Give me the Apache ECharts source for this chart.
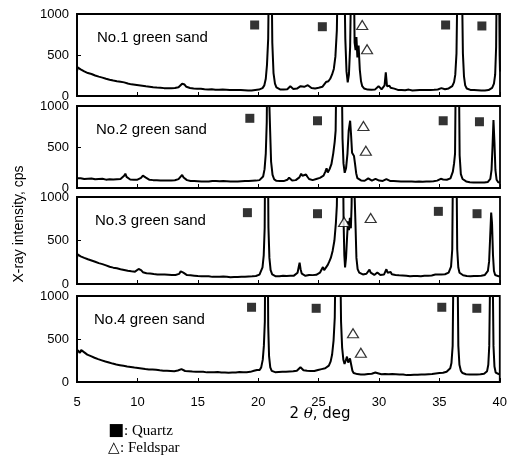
<!DOCTYPE html>
<html>
<head>
<meta charset="utf-8">
<script src="https://cdn.jsdelivr.net/npm/echarts@6/dist/echarts.min.js"></script>
<style>
  html, body { margin: 0; padding: 0; background: #fff; }
  #chart { width: 510px; height: 457px; }
</style>
</head>
<body>
<div id="chart"></div>
<script>
// 2-theta (deg) vs X-ray intensity (cps)
const sand1 = [[5.0,300],[5.05,350],[5.15,335],[5.3,325],[5.45,310],[5.6,300],[5.75,296],[5.9,280],[6.05,276],[6.2,268],[6.35,262],[6.5,250],[6.65,246],[6.8,236],[6.95,228],[7.1,224],[7.25,216],[7.4,210],[7.55,206],[7.7,198],[7.85,196],[8.0,188],[8.15,186],[8.3,180],[8.45,176],[8.6,174],[8.75,168],[8.9,166],[9.05,160],[9.2,152],[9.35,150],[9.5,142],[9.65,140],[9.8,136],[9.95,132],[10.1,130],[10.25,128],[10.4,124],[10.55,122],[10.7,118],[10.85,120],[11.0,114],[11.15,112],[11.3,108],[11.45,106],[11.6,104],[11.75,100],[11.9,102],[12.05,98],[12.2,96],[12.35,98],[12.5,94],[12.65,92],[12.8,96],[12.95,94],[13.1,98],[13.25,100],[13.4,106],[13.55,122],[13.7,150],[13.8,158],[13.9,140],[14.05,112],[14.2,104],[14.35,98],[14.5,96],[14.65,92],[14.8,90],[14.95,88],[15.1,86],[15.25,88],[15.4,84],[15.55,82],[15.7,84],[15.85,80],[16.0,78],[16.15,82],[16.3,78],[16.45,76],[16.6,80],[16.75,76],[16.9,74],[17.05,78],[17.2,82],[17.35,76],[17.5,74],[17.65,72],[17.8,76],[17.95,74],[18.1,70],[18.25,72],[18.4,76],[18.55,72],[18.7,68],[18.85,70],[19.0,72],[19.15,68],[19.3,70],[19.45,66],[19.6,70],[19.75,72],[19.9,76],[20.05,78],[20.2,84],[20.35,96],[20.5,130],[20.62,210],[20.72,380],[20.82,700],[20.9,1800],[21.08,1800],[21.16,650],[21.26,280],[21.38,150],[21.5,104],[21.65,86],[21.8,80],[21.95,76],[22.1,78],[22.25,74],[22.4,82],[22.55,92],[22.65,118],[22.75,100],[22.9,86],[23.05,96],[23.2,90],[23.35,104],[23.5,120],[23.65,136],[23.8,112],[23.95,120],[24.1,132],[24.25,110],[24.4,98],[24.55,104],[24.7,92],[24.85,96],[25.0,100],[25.15,106],[25.3,112],[25.45,130],[25.6,170],[25.7,160],[25.8,180],[25.95,210],[26.1,260],[26.25,330],[26.38,480],[26.5,800],[26.58,1500],[26.85,3000],[27.12,1500],[27.2,700],[27.3,300],[27.4,165],[27.5,260],[27.6,600],[27.7,1600],[27.9,1600],[27.97,650],[28.05,560],[28.12,720],[28.2,470],[28.3,615],[28.4,320],[28.5,180],[28.6,120],[28.75,92],[28.9,84],[29.05,78],[29.2,82],[29.35,76],[29.5,80],[29.65,78],[29.8,88],[29.95,120],[30.05,96],[30.2,82],[30.35,92],[30.45,130],[30.55,290],[30.65,120],[30.75,96],[30.85,126],[30.95,100],[31.1,84],[31.25,90],[31.4,78],[31.55,74],[31.7,80],[31.85,72],[32.0,76],[32.15,70],[32.3,74],[32.45,78],[32.6,72],[32.75,68],[32.9,74],[33.05,70],[33.2,66],[33.35,72],[33.5,70],[33.65,74],[33.8,68],[33.95,72],[34.1,70],[34.25,74],[34.4,72],[34.55,76],[34.7,74],[34.85,80],[35.0,86],[35.15,96],[35.3,84],[35.45,82],[35.6,88],[35.75,92],[35.9,100],[36.05,120],[36.2,170],[36.3,260],[36.4,520],[36.48,1400],[36.85,1400],[36.93,520],[37.02,240],[37.12,130],[37.25,92],[37.4,80],[37.55,74],[37.7,70],[37.85,72],[38.0,68],[38.15,70],[38.3,66],[38.45,68],[38.6,64],[38.75,66],[38.9,70],[39.05,72],[39.2,80],[39.35,100],[39.5,150],[39.6,260],[39.68,600],[39.73,1500],[39.92,1500],[39.97,500],[40.0,300]];

const sand2 = [[5.0,118],[5.15,112],[5.3,120],[5.45,116],[5.6,110],[5.75,118],[5.9,114],[6.05,108],[6.2,116],[6.35,112],[6.5,106],[6.65,114],[6.8,110],[6.95,104],[7.1,112],[7.25,108],[7.4,102],[7.55,110],[7.7,106],[7.85,112],[8.0,104],[8.15,100],[8.3,108],[8.45,104],[8.6,110],[8.75,120],[8.9,150],[9.0,175],[9.1,135],[9.25,112],[9.4,104],[9.55,108],[9.7,100],[9.85,106],[10.0,102],[10.15,110],[10.3,124],[10.45,150],[10.55,160],[10.7,126],[10.85,108],[11.0,100],[11.15,104],[11.3,96],[11.45,100],[11.6,94],[11.75,98],[11.9,92],[12.05,96],[12.2,90],[12.35,94],[12.5,92],[12.65,96],[12.8,92],[12.95,98],[13.1,94],[13.25,100],[13.4,108],[13.55,130],[13.7,160],[13.82,128],[13.95,104],[14.1,96],[14.25,92],[14.4,86],[14.55,90],[14.7,84],[14.85,88],[15.0,82],[15.15,86],[15.3,80],[15.45,84],[15.6,80],[15.75,82],[15.9,78],[16.05,82],[16.2,86],[16.35,80],[16.5,84],[16.65,78],[16.8,82],[16.95,80],[17.1,84],[17.25,78],[17.4,82],[17.55,86],[17.7,80],[17.85,82],[18.0,78],[18.15,84],[18.3,80],[18.45,86],[18.6,82],[18.75,78],[18.9,84],[19.05,80],[19.2,86],[19.35,82],[19.5,88],[19.65,84],[19.8,90],[19.95,88],[20.1,96],[20.25,110],[20.4,140],[20.52,230],[20.62,420],[20.7,800],[20.76,1800],[20.92,1800],[20.98,700],[21.06,320],[21.18,160],[21.32,104],[21.5,88],[21.65,82],[21.8,86],[21.95,80],[22.1,84],[22.25,90],[22.4,100],[22.55,126],[22.65,112],[22.8,92],[22.95,88],[23.1,96],[23.25,104],[23.4,130],[23.55,175],[23.65,150],[23.8,128],[23.95,165],[24.05,140],[24.2,110],[24.35,100],[24.5,96],[24.65,104],[24.8,110],[24.95,118],[25.1,124],[25.25,140],[25.4,150],[25.55,200],[25.65,240],[25.75,190],[25.9,230],[26.05,290],[26.2,420],[26.32,560],[26.4,700],[26.47,1500],[26.7,3000],[26.9,1500],[26.97,600],[27.05,300],[27.15,185],[27.26,240],[27.38,420],[27.48,700],[27.6,820],[27.68,640],[27.76,430],[27.84,450],[27.92,390],[28.0,300],[28.1,180],[28.2,120],[28.35,100],[28.5,92],[28.65,96],[28.8,88],[28.95,104],[29.1,118],[29.25,96],[29.4,90],[29.55,104],[29.7,112],[29.85,96],[30.0,90],[30.15,94],[30.3,86],[30.45,100],[30.6,108],[30.75,92],[30.9,86],[31.05,90],[31.2,84],[31.35,88],[31.5,82],[31.65,86],[31.8,80],[31.95,84],[32.1,78],[32.25,82],[32.4,80],[32.55,84],[32.7,78],[32.85,80],[33.0,76],[33.15,82],[33.3,78],[33.45,80],[33.6,76],[33.75,82],[33.9,80],[34.05,84],[34.2,80],[34.35,86],[34.5,82],[34.65,88],[34.8,90],[34.95,96],[35.1,112],[35.2,126],[35.3,104],[35.45,96],[35.6,100],[35.75,108],[35.9,118],[36.0,140],[36.1,200],[36.2,300],[36.28,420],[36.34,1400],[36.6,1400],[36.66,400],[36.76,170],[36.9,110],[37.05,88],[37.2,80],[37.35,74],[37.5,70],[37.65,74],[37.8,68],[37.95,72],[38.1,66],[38.25,70],[38.4,68],[38.55,72],[38.7,66],[38.85,70],[39.0,74],[39.1,82],[39.2,110],[39.3,220],[39.38,500],[39.46,830],[39.54,560],[39.62,220],[39.72,100],[39.85,70],[40.0,66]];

const sand3 = [[5.0,300],[5.05,340],[5.15,330],[5.3,318],[5.45,322],[5.6,300],[5.75,290],[5.9,284],[6.05,276],[6.2,270],[6.35,262],[6.5,256],[6.65,246],[6.8,240],[6.95,236],[7.1,228],[7.25,222],[7.4,214],[7.55,204],[7.7,198],[7.85,194],[8.0,188],[8.15,184],[8.3,180],[8.45,176],[8.6,170],[8.75,168],[8.9,162],[9.05,158],[9.2,152],[9.35,150],[9.5,146],[9.65,140],[9.8,142],[9.95,150],[10.1,172],[10.2,188],[10.3,160],[10.45,136],[10.6,128],[10.75,124],[10.9,126],[11.05,120],[11.2,118],[11.35,114],[11.5,116],[11.65,110],[11.8,112],[11.95,108],[12.1,106],[12.25,108],[12.4,104],[12.55,106],[12.7,100],[12.85,104],[13.0,100],[13.15,104],[13.3,108],[13.45,116],[13.58,145],[13.68,162],[13.8,130],[13.95,108],[14.1,102],[14.25,98],[14.4,100],[14.55,94],[14.7,96],[14.85,90],[15.0,92],[15.15,88],[15.3,90],[15.45,86],[15.6,90],[15.75,84],[15.9,88],[16.05,86],[16.2,82],[16.35,86],[16.5,84],[16.65,80],[16.8,84],[16.95,82],[17.1,86],[17.25,80],[17.4,84],[17.55,82],[17.7,78],[17.85,82],[18.0,80],[18.15,84],[18.3,80],[18.45,78],[18.6,82],[18.75,80],[18.9,84],[19.05,82],[19.2,86],[19.35,84],[19.5,88],[19.65,86],[19.8,92],[19.95,98],[20.1,108],[20.22,130],[20.35,190],[20.45,330],[20.53,650],[20.58,1800],[20.78,1800],[20.84,650],[20.92,300],[21.02,160],[21.15,110],[21.3,92],[21.45,88],[21.6,84],[21.75,90],[21.9,86],[22.05,96],[22.2,106],[22.35,92],[22.5,88],[22.65,94],[22.8,90],[22.95,96],[23.1,104],[23.25,130],[23.35,200],[23.42,245],[23.5,170],[23.6,118],[23.75,100],[23.9,94],[24.05,98],[24.2,104],[24.35,96],[24.5,102],[24.65,110],[24.8,106],[24.95,118],[25.1,130],[25.25,170],[25.35,195],[25.45,160],[25.6,175],[25.75,220],[25.88,260],[26.0,300],[26.15,380],[26.3,500],[26.42,700],[26.5,900],[26.58,1600],[26.85,3000],[27.0,1600],[27.06,700],[27.12,330],[27.18,190],[27.26,300],[27.34,520],[27.42,720],[27.5,620],[27.58,760],[27.66,640],[27.72,900],[27.8,1800],[27.96,1800],[28.04,700],[28.12,300],[28.22,170],[28.35,130],[28.5,118],[28.65,110],[28.8,114],[28.95,118],[29.1,140],[29.2,165],[29.3,130],[29.45,112],[29.6,104],[29.75,116],[29.85,132],[29.95,112],[30.1,104],[30.25,98],[30.4,108],[30.5,130],[30.6,170],[30.7,130],[30.85,110],[30.95,138],[31.05,112],[31.2,100],[31.35,104],[31.5,96],[31.65,100],[31.8,94],[31.95,98],[32.1,92],[32.25,96],[32.4,94],[32.55,90],[32.7,94],[32.85,92],[33.0,96],[33.15,92],[33.3,94],[33.45,90],[33.6,94],[33.75,96],[33.9,92],[34.05,96],[34.2,100],[34.35,98],[34.5,104],[34.65,110],[34.75,124],[34.85,108],[35.0,104],[35.15,110],[35.3,106],[35.45,112],[35.6,120],[35.75,130],[35.85,150],[35.95,200],[36.05,400],[36.11,1400],[36.4,1400],[36.46,400],[36.55,190],[36.65,130],[36.8,108],[36.95,100],[37.1,96],[37.25,92],[37.4,96],[37.55,90],[37.7,94],[37.85,92],[38.0,88],[38.15,92],[38.3,90],[38.45,94],[38.6,98],[38.75,104],[38.9,116],[39.0,150],[39.1,260],[39.18,520],[39.27,820],[39.34,700],[39.42,330],[39.5,150],[39.6,104],[39.75,92],[39.9,88],[40.0,90]];

const sand4 = [[5.0,320],[5.05,370],[5.15,355],[5.25,340],[5.35,372],[5.45,390],[5.55,350],[5.7,330],[5.85,318],[6.0,306],[6.15,300],[6.3,290],[6.45,282],[6.6,274],[6.75,266],[6.9,258],[7.05,252],[7.2,246],[7.35,238],[7.5,232],[7.65,226],[7.8,222],[7.95,214],[8.1,210],[8.25,204],[8.4,200],[8.55,196],[8.7,194],[8.85,188],[9.0,186],[9.15,180],[9.3,178],[9.45,174],[9.6,172],[9.75,168],[9.9,170],[10.05,164],[10.2,160],[10.35,158],[10.5,156],[10.65,150],[10.8,152],[10.95,146],[11.1,144],[11.25,146],[11.4,140],[11.55,142],[11.7,138],[11.85,136],[12.0,138],[12.15,132],[12.3,134],[12.45,130],[12.6,132],[12.75,128],[12.9,130],[13.05,126],[13.2,130],[13.35,134],[13.5,140],[13.65,150],[13.8,138],[13.95,128],[14.1,124],[14.25,126],[14.4,120],[14.55,122],[14.7,118],[14.85,120],[15.0,116],[15.15,118],[15.3,114],[15.45,118],[15.6,116],[15.75,112],[15.9,116],[16.05,114],[16.2,110],[16.35,114],[16.5,112],[16.65,116],[16.8,112],[16.95,110],[17.1,114],[17.25,110],[17.4,112],[17.55,108],[17.7,112],[17.85,110],[18.0,114],[18.15,110],[18.3,112],[18.45,116],[18.6,112],[18.75,114],[18.9,118],[19.05,114],[19.2,120],[19.35,118],[19.5,124],[19.65,130],[19.8,150],[19.9,140],[20.0,128],[20.12,140],[20.25,170],[20.38,260],[20.47,420],[20.55,700],[20.6,1800],[20.78,1800],[20.83,650],[20.9,300],[21.0,170],[21.12,130],[21.25,118],[21.4,114],[21.55,120],[21.7,116],[21.85,112],[22.0,118],[22.15,114],[22.3,120],[22.45,116],[22.6,122],[22.75,118],[22.9,124],[23.05,120],[23.2,130],[23.35,150],[23.5,172],[23.6,160],[23.75,136],[23.9,126],[24.05,130],[24.2,124],[24.35,128],[24.5,132],[24.65,128],[24.8,136],[24.95,140],[25.1,146],[25.25,150],[25.4,156],[25.55,160],[25.7,170],[25.85,190],[26.0,240],[26.12,320],[26.24,480],[26.34,750],[26.42,1600],[26.6,3000],[26.78,1600],[26.86,700],[26.95,400],[27.05,260],[27.15,210],[27.25,250],[27.35,295],[27.45,225],[27.53,250],[27.6,275],[27.7,200],[27.8,130],[27.9,104],[28.05,96],[28.2,92],[28.35,94],[28.5,88],[28.65,92],[28.8,86],[28.95,90],[29.1,94],[29.25,90],[29.4,96],[29.55,100],[29.7,110],[29.8,118],[29.9,102],[30.05,94],[30.2,90],[30.35,94],[30.5,92],[30.65,96],[30.8,90],[30.95,88],[31.1,92],[31.25,86],[31.4,90],[31.55,84],[31.7,88],[31.85,82],[32.0,86],[32.15,84],[32.3,80],[32.45,84],[32.6,82],[32.75,86],[32.9,84],[33.05,80],[33.2,84],[33.35,82],[33.5,86],[33.65,84],[33.8,88],[33.95,86],[34.1,90],[34.25,88],[34.4,92],[34.55,96],[34.7,100],[34.85,108],[35.0,104],[35.15,112],[35.3,108],[35.45,114],[35.6,120],[35.75,134],[35.9,160],[36.0,220],[36.1,420],[36.17,1400],[36.5,1400],[36.57,420],[36.66,200],[36.78,130],[36.92,104],[37.05,96],[37.2,90],[37.35,94],[37.5,88],[37.65,92],[37.8,86],[37.95,90],[38.1,88],[38.25,92],[38.4,90],[38.55,94],[38.7,96],[38.85,104],[38.95,126],[39.05,200],[39.13,420],[39.2,1200],[39.42,1200],[39.48,420],[39.56,180],[39.66,110],[39.8,92],[39.95,90],[40.0,92]];

// peak markers: ■ quartz, △ feldspar
const quartz1 = [[19.7,866],[25.3,845],[35.5,866],[38.5,854]];
const feldspar1 = [[28.6,866],[29.0,570]];
const quartz2 = [[19.3,850],[24.9,820],[35.3,820],[38.3,808]];
const feldspar2 = [[28.7,756],[28.9,455]];
const quartz3 = [[19.1,820],[24.9,808],[34.9,835],[38.1,808]];
const feldspar3 = [[27.1,713],[29.3,759]];
const quartz4 = [[19.45,869],[24.8,857],[35.2,869],[38.1,857]];
const feldspar4 = [[27.85,566],[28.5,340]];

const panelNames = ['No.1 green sand', 'No.2 green sand', 'No.3 green sand', 'No.4 green sand'];
const xTicks = [5, 10, 15, 20, 25, 30, 35, 40];

const spectra = [sand1, sand2, sand3, sand4];
const quartzMarks = [quartz1, quartz2, quartz3, quartz4];
const feldsparMarks = [feldspar1, feldspar2, feldspar3, feldspar4];

const chartDom = document.getElementById('chart');
const myChart = echarts.init(chartDom);

const panels = [
  { top: 14, height: 82 },
  { top: 106, height: 82 },
  { top: 197, height: 87 },
  { top: 296, height: 86 }
];
const labelFont = 'Liberation Sans';

const grids = panels.map(p => ({
  left: 77, width: 423, top: p.top, height: p.height,
  show: true, borderColor: '#000', borderWidth: 1.8, backgroundColor: 'transparent'
}));

const xAxes = panels.map((p, i) => ({
  type: 'value', gridIndex: i, min: xTicks[0], max: xTicks[xTicks.length - 1], interval: 5,
  axisLine: { lineStyle: { color: '#000', width: 1.8 } },
  axisTick: { inside: true, length: 4, lineStyle: { color: '#000' } },
  splitLine: { show: false },
  axisLabel: {
    show: i === 3, color: '#000', fontSize: 13, fontFamily: labelFont, margin: 14,
    showMinLabel: true, showMaxLabel: true
  }
}));

const yAxes = panels.map((p, i) => ({
  type: 'value', gridIndex: i, min: 0, max: 1000, interval: 500,
  axisLine: { show: true, lineStyle: { color: '#000', width: 1.8 } },
  axisTick: { show: true, inside: true, length: 4, lineStyle: { color: '#000' } },
  splitLine: { show: false },
  axisLabel: { color: '#000', fontSize: 13, fontFamily: labelFont, margin: 8, formatter: v => String(v) }
}));

const series = [];
spectra.forEach((d, i) => {
  series.push({
    type: 'line', xAxisIndex: i, yAxisIndex: i, data: d,
    showSymbol: false, symbol: 'none', clip: true,
    lineStyle: { color: '#000', width: 2 }
  });
  series.push({
    type: 'scatter', xAxisIndex: i, yAxisIndex: i, data: quartzMarks[i],
    symbol: 'rect', symbolSize: [9, 9], itemStyle: { color: '#000' }, z: 5
  });
  series.push({
    type: 'scatter', xAxisIndex: i, yAxisIndex: i, data: feldsparMarks[i],
    symbol: 'triangle', symbolSize: [11, 9],
    itemStyle: { color: '#fff', borderColor: '#000', borderWidth: 1.2 }, z: 5
  });
});

const titles = panelNames.map((name, i) => ({
  text: name, left: 92 - i, top: panels[i].top + 11,
  textStyle: { color: '#000', fontSize: 15, fontWeight: 'normal', fontFamily: labelFont }
}));

const option = {
  animation: false,
  backgroundColor: '#fff',
  title: titles,
  grid: grids,
  xAxis: xAxes,
  yAxis: yAxes,
  series: series,
  graphic: [
    {
      type: 'text', x: 19, y: 224, rotation: Math.PI / 2,
      style: { text: 'X-ray intensity, cps', fontSize: 14, fontFamily: labelFont, fill: '#000', align: 'center', verticalAlign: 'middle' }
    },
    {
      type: 'text', x: 320, y: 414,
      style: {
        text: '2 {t|θ}, deg', align: 'center', verticalAlign: 'middle',
        fontSize: 15, fontFamily: 'DejaVu Sans', fill: '#000',
        rich: { t: { fontSize: 15, fontStyle: 'italic', fontFamily: 'DejaVu Serif', fill: '#000' } }
      }
    },
    {
      type: 'text', x: 108, y: 431,
      style: {
        text: '{q|■}: Quartz', fontSize: 15, fontFamily: 'Liberation Serif', fill: '#000', verticalAlign: 'middle',
        rich: { q: { fontSize: 17, fontFamily: 'DejaVu Sans', fill: '#000' } }
      }
    },
    {
      type: 'text', x: 108, y: 448,
      style: { text: '△: Feldspar', fontSize: 15, fontFamily: 'Liberation Serif', fill: '#000', verticalAlign: 'middle' }
    }
  ]
};

myChart.setOption(option);
</script>
</body>
</html>
